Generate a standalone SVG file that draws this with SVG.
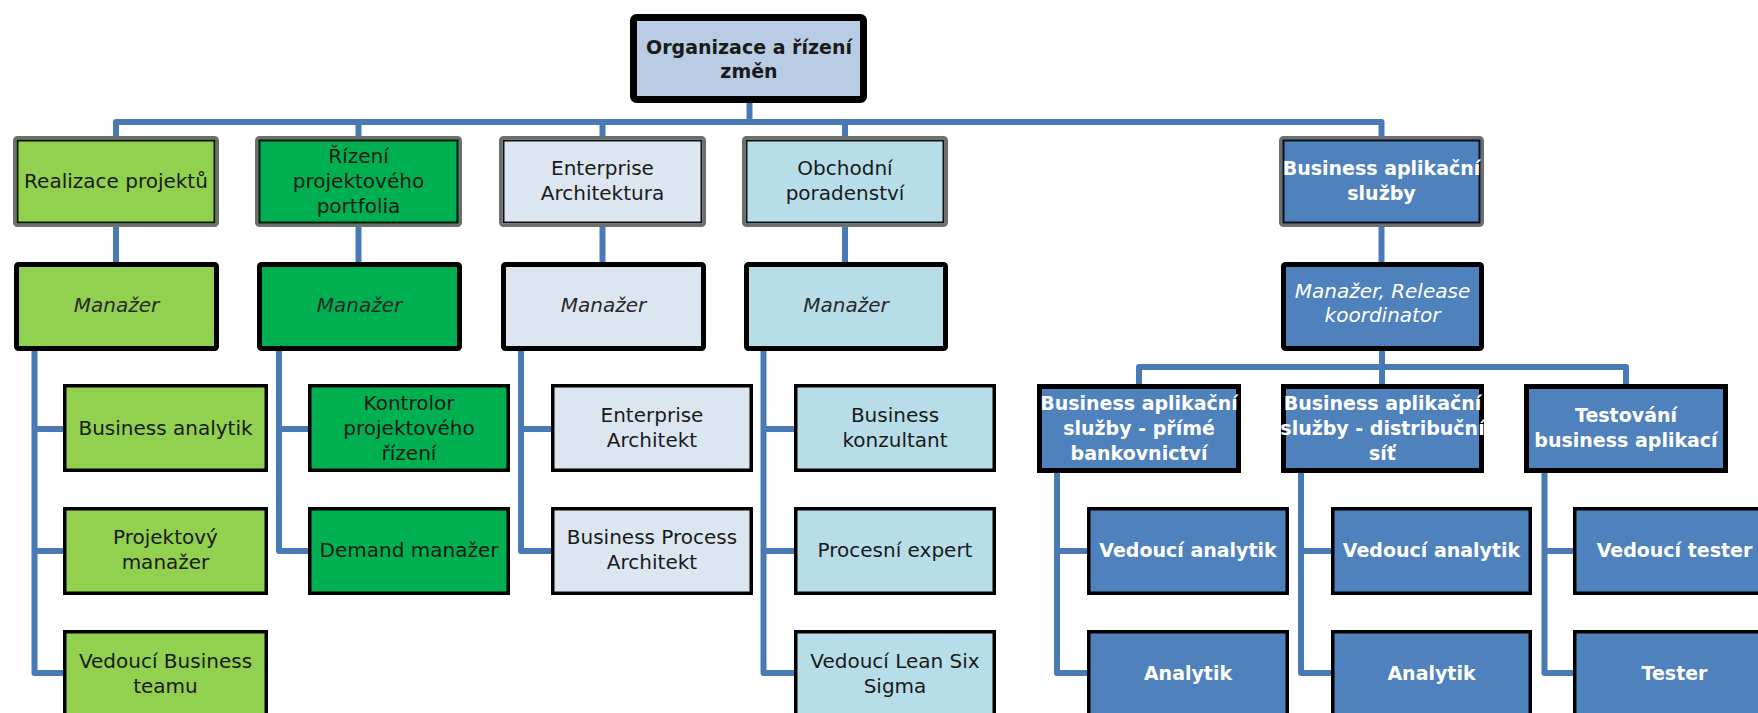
<svg xmlns="http://www.w3.org/2000/svg" width="1758" height="713" viewBox="0 0 1758 713">
  <style>
    .conn { fill: none; stroke: #4a7ab6; stroke-width: 6; stroke-linejoin: round; }
    .root { stroke: #000; stroke-width: 7; }
    .outer { stroke: #6e6e6e; stroke-width: 3; }
    .inner { fill: none; stroke: #111; stroke-width: 2; }
    .mgr { stroke: #000; stroke-width: 5; }
    .box { stroke: #000; stroke-width: 3.5; }
    .lime { fill: #92d050; }
    .green { fill: #00b050; }
    .pale { fill: #dce6f1; }
    .cyan { fill: #b7dee8; }
    .blue { fill: #4f81bd; }
    .sky { fill: #b8cce4; }
    text { font-family: "DejaVu Sans", "Liberation Sans", sans-serif; font-size: 20px; text-anchor: middle; fill: #1a1a1a; }
    .b { font-weight: bold; font-size: 19px; }
    .i { font-style: italic; fill: #2a2a2a; }
    .w { fill: #ffffff; }
  </style>

  <!-- connectors -->
  <g id="connectors">
    <g class="conn">
      <!-- top bus -->
      <path d="M749.5,103 V122"/>
      <path d="M116,136 V122 H1381.5 V136"/>
      <path d="M358.5,122 V136 M602.5,122 V136 M845,122 V136"/>
      <!-- department to manager -->
      <path d="M116,227 V262 M358.5,227 V262 M602.5,227 V262 M845,227 V262 M1381.5,227 V262"/>
      <!-- column: Realizace projektů -->
      <path d="M34.5,351 V673 H63 M34.5,429 H63 M34.5,551 H63"/>
      <!-- column: Řízení projektového portfolia -->
      <path d="M279,351 V551 H308 M279,429 H308"/>
      <!-- column: Enterprise Architektura -->
      <path d="M521,351 V551 H551 M521,429 H551"/>
      <!-- column: Obchodní poradenství -->
      <path d="M763.5,351 V673 H794 M763.5,429 H794 M763.5,551 H794"/>
      <!-- Business aplikační služby sub-bus -->
      <path d="M1382,351 V384"/>
      <path d="M1139,384 V367 H1626 V384"/>
      <!-- sub-columns -->
      <path d="M1057,473 V673 H1087 M1057,551 H1087"/>
      <path d="M1301,473 V673 H1331 M1301,551 H1331"/>
      <path d="M1544.5,473 V673 H1573 M1544.5,551 H1573"/>
    </g>
  </g>

  <!-- root -->
  <g id="n-root">
    <rect class="root sky" x="633.5" y="17.5" width="230" height="82" rx="3"/>
    <text class="b" x="749" y="54">Organizace a řízení</text>
    <text class="b" x="749" y="78">změn</text>
  </g>

  <!-- departments -->
  <g id="n-realizace">
    <rect class="outer lime" x="14.5" y="137.5" width="203" height="88" rx="3"/>
    <rect class="inner" x="17.5" y="140.5" width="197" height="82"/>
    <text x="116" y="188">Realizace projektů</text>
  </g>
  <g id="n-portfolio">
    <rect class="outer green" x="256.5" y="137.5" width="204" height="88" rx="3"/>
    <rect class="inner" x="259.5" y="140.5" width="198" height="82"/>
    <text x="358.5" y="163">Řízení</text>
    <text x="358.5" y="188">projektového</text>
    <text x="358.5" y="213">portfolia</text>
  </g>
  <g id="n-ea">
    <rect class="outer pale" x="500.5" y="137.5" width="204" height="88" rx="3"/>
    <rect class="inner" x="503.5" y="140.5" width="198" height="82"/>
    <text x="602.5" y="175">Enterprise</text>
    <text x="602.5" y="200">Architektura</text>
  </g>
  <g id="n-obchod">
    <rect class="outer cyan" x="743.5" y="137.5" width="203" height="88" rx="3"/>
    <rect class="inner" x="746.5" y="140.5" width="197" height="82"/>
    <text x="845" y="175">Obchodní</text>
    <text x="845" y="200">poradenství</text>
  </g>
  <g id="n-bas">
    <rect class="outer blue" x="1280.5" y="137.5" width="202" height="88" rx="3"/>
    <rect class="inner" x="1283.5" y="140.5" width="196" height="82"/>
    <text class="b w" x="1381.5" y="175">Business aplikační</text>
    <text class="b w" x="1381.5" y="200">služby</text>
  </g>

  <!-- managers -->
  <g id="n-mgr-realizace">
    <rect class="mgr lime" x="16.5" y="264.5" width="200" height="84" rx="2"/>
    <text class="i" x="116.5" y="312">Manažer</text>
  </g>
  <g id="n-mgr-portfolio">
    <rect class="mgr green" x="259.5" y="264.5" width="200" height="84" rx="2"/>
    <text class="i" x="359.5" y="312">Manažer</text>
  </g>
  <g id="n-mgr-ea">
    <rect class="mgr pale" x="503.5" y="264.5" width="200" height="84" rx="2"/>
    <text class="i" x="603.5" y="312">Manažer</text>
  </g>
  <g id="n-mgr-obchod">
    <rect class="mgr cyan" x="746.5" y="264.5" width="199" height="84" rx="2"/>
    <text class="i" x="846" y="312">Manažer</text>
  </g>
  <g id="n-mgr-bas">
    <rect class="mgr blue" x="1283.5" y="264.5" width="198" height="84" rx="2"/>
    <text class="i w" x="1382.5" y="298">Manažer, Release</text>
    <text class="i w" x="1382.5" y="322">koordinator</text>
  </g>

  <!-- Realizace projektů roles -->
  <g id="n-business-analytik">
    <rect class="box lime" x="64.75" y="385.75" width="201.5" height="84.5"/>
    <text x="165.5" y="435">Business analytik</text>
  </g>
  <g id="n-projektovy-manazer">
    <rect class="box lime" x="64.75" y="508.75" width="201.5" height="84.5"/>
    <text x="165.5" y="544">Projektový</text>
    <text x="165.5" y="569">manažer</text>
  </g>
  <g id="n-vedouci-business-teamu">
    <rect class="box lime" x="64.75" y="631.75" width="201.5" height="100"/>
    <text x="165.5" y="668">Vedoucí Business</text>
    <text x="165.5" y="693">teamu</text>
  </g>

  <!-- Řízení projektového portfolia roles -->
  <g id="n-kontrolor">
    <rect class="box green" x="309.75" y="385.75" width="198.5" height="84.5"/>
    <text x="409" y="410">Kontrolor</text>
    <text x="409" y="435">projektového</text>
    <text x="409" y="460">řízení</text>
  </g>
  <g id="n-demand">
    <rect class="box green" x="309.75" y="508.75" width="198.5" height="84.5"/>
    <text x="409" y="557">Demand manažer</text>
  </g>

  <!-- Enterprise Architektura roles -->
  <g id="n-enterprise-architekt">
    <rect class="box pale" x="552.75" y="385.75" width="198.5" height="84.5"/>
    <text x="652" y="422">Enterprise</text>
    <text x="652" y="447">Architekt</text>
  </g>
  <g id="n-bp-architekt">
    <rect class="box pale" x="552.75" y="508.75" width="198.5" height="84.5"/>
    <text x="652" y="544">Business Process</text>
    <text x="652" y="569">Architekt</text>
  </g>

  <!-- Obchodní poradenství roles -->
  <g id="n-konzultant">
    <rect class="box cyan" x="795.75" y="385.75" width="198.5" height="84.5"/>
    <text x="895" y="422">Business</text>
    <text x="895" y="447">konzultant</text>
  </g>
  <g id="n-procesni-expert">
    <rect class="box cyan" x="795.75" y="508.75" width="198.5" height="84.5"/>
    <text x="895" y="557">Procesní expert</text>
  </g>
  <g id="n-lean">
    <rect class="box cyan" x="795.75" y="631.75" width="198.5" height="100"/>
    <text x="895" y="668">Vedoucí Lean Six</text>
    <text x="895" y="693">Sigma</text>
  </g>

  <!-- Business aplikační služby teams -->
  <g id="n-bas-prime">
    <rect class="mgr blue" x="1039.5" y="386.5" width="199" height="84"/>
    <text class="b w" x="1139" y="410">Business aplikační</text>
    <text class="b w" x="1139" y="435">služby - přímé</text>
    <text class="b w" x="1139" y="460">bankovnictví</text>
  </g>
  <g id="n-bas-distribucni">
    <rect class="mgr blue" x="1283.5" y="386.5" width="198" height="84"/>
    <text class="b w" x="1382.5" y="410">Business aplikační</text>
    <text class="b w" x="1382.5" y="435">služby - distribuční</text>
    <text class="b w" x="1382.5" y="460">síť</text>
  </g>
  <g id="n-testovani">
    <rect class="mgr blue" x="1526.5" y="386.5" width="199" height="84"/>
    <text class="b w" x="1626" y="422">Testování</text>
    <text class="b w" x="1626" y="447">business aplikací</text>
  </g>

  <!-- team roles -->
  <g id="n-prime-vedouci">
    <rect class="box blue" x="1088.75" y="508.75" width="198.5" height="84.5"/>
    <text class="b w" x="1188" y="557">Vedoucí analytik</text>
  </g>
  <g id="n-prime-analytik">
    <rect class="box blue" x="1088.75" y="631.75" width="198.5" height="100"/>
    <text class="b w" x="1188" y="680">Analytik</text>
  </g>
  <g id="n-distr-vedouci">
    <rect class="box blue" x="1332.75" y="508.75" width="197.5" height="84.5"/>
    <text class="b w" x="1431.5" y="557">Vedoucí analytik</text>
  </g>
  <g id="n-distr-analytik">
    <rect class="box blue" x="1332.75" y="631.75" width="197.5" height="100"/>
    <text class="b w" x="1431.5" y="680">Analytik</text>
  </g>
  <g id="n-vedouci-tester">
    <rect class="box blue" x="1574.75" y="508.75" width="199.5" height="84.5"/>
    <text class="b w" x="1674.5" y="557">Vedoucí tester</text>
  </g>
  <g id="n-tester">
    <rect class="box blue" x="1574.75" y="631.75" width="199.5" height="100"/>
    <text class="b w" x="1674.5" y="680">Tester</text>
  </g>
</svg>
